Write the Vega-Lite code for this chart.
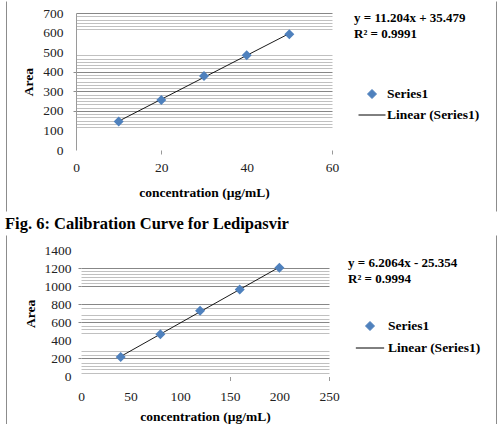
{
  "$schema": "https://vega.github.io/schema/vega-lite/v6.json",
  "background": "white",
  "padding": {"left": 4, "top": 0, "right": 0, "bottom": 0},
  "spacing": 3,
  "resolve": {
    "scale": {"color": "independent", "x": "independent", "y": "independent"},
    "legend": {"color": "independent"}
  },
  "datasets": {
    "ledipasvir_low": [
      {"conc": 10, "area": 146},
      {"conc": 20, "area": 256},
      {"conc": 30, "area": 378},
      {"conc": 40, "area": 484},
      {"conc": 50, "area": 592}
    ],
    "ledipasvir_high": [
      {"conc": 40, "area": 216},
      {"conc": 80, "area": 470},
      {"conc": 120, "area": 730},
      {"conc": 160, "area": 966},
      {"conc": 200, "area": 1207}
    ]
  },
  "config": {
    "font": "Liberation Serif",
    "axis": {
      "labelFont": "Liberation Serif",
      "labelFontSize": 13.5,
      "labelColor": "#222222",
      "titleFont": "Liberation Serif",
      "titleFontSize": 13.5,
      "titleFontWeight": "bold",
      "titleColor": "#000000",
      "labelOverlap": false,
      "labelFlush": false,
      "tickCount": 200,
      "format": "d"
    },
    "legend": {
      "padding": 0,
      "titleFont": "Liberation Serif",
      "titleFontSize": 13,
      "titleFontWeight": "bold",
      "titleColor": "#000000",
      "titleLineHeight": 16,
      "titleAnchor": "start",
      "titleLimit": 300,
      "labelFont": "Liberation Serif",
      "labelFontSize": 13.5,
      "labelFontWeight": "bold",
      "labelColor": "#000000",
      "symbolSize": 576
    }
  },
  "vconcat": [
    {
      "width": 490,
      "height": 210,
      "view": {"stroke": "#8c8c8c", "strokeDash": [0, 490, 210, 490, 210]},
      "data": {"name": "ledipasvir_low"},
      "layer": [
        {
          "transform": [{"regression": "area", "on": "conc"}],
          "mark": {"type": "line", "strokeWidth": 0.9},
          "encoding": {
            "x": {
              "field": "conc",
              "type": "quantitative",
              "scale": {"domain": [0, 60], "range": [70, 326], "nice": false},
              "axis": {
                "title": "concentration (µg/mL)",
                "values": [0, 20, 40, 60],
                "offset": -61,
                "domain": false,
                "grid": false,
                "tickSize": 4,
                "tickColor": "#999999",
                "tickOpacity": {"condition": {"test": "datum.value === 20 || datum.value === 60", "value": 1}, "value": 0},
                "labelPadding": 6.5,
                "titlePadding": 11.5
              }
            },
            "y": {
              "field": "area",
              "type": "quantitative",
              "scale": {"domain": [0, 700], "range": [149, 12], "nice": false},
              "axis": {
                "title": "Area",
                "values": [0, 100, 116.7, 133.3, 150, 166.7, 183.3, 200, 216.7, 233.3, 250, 266.7, 283.3, 300, 316.7, 333.3, 350, 366.7, 383.3, 400, 416.7, 433.3, 450, 466.7, 483.3, 500, 600, 616.7, 633.3, 650, 666.7, 683.3, 700],
                "offset": -70,
                "labelExpr": "datum.value % 100 === 0 ? datum.label : ''",
                "grid": true,
                "gridColor": {"condition": {"test": "datum.value % 100 === 0", "value": "#878787"}, "value": "#c0c0c0"},
                "gridOpacity": {"condition": {"test": "datum.value === 0 || datum.value === 100 || datum.value === 500 || datum.value === 600", "value": 0}, "value": 1},
                "tickSize": 3,
                "tickColor": "#8c8c8c",
                "tickOpacity": {"condition": {"test": "datum.value === 200 || datum.value === 300 || datum.value === 400", "value": 1}, "value": 0},
                "domain": true,
                "domainColor": "#9a9a9a",
                "labelPadding": 10,
                "titlePadding": 7
              }
            },
            "color": {
              "datum": "Linear (Series1)",
              "scale": {"domain": ["Series1", "Linear (Series1)"], "range": ["#4F81BD", "#000000"]},
              "legend": {
                "orient": "none",
                "legendX": 348,
                "legendY": 11,
                "title": "y = 11.204x + 35.479",
                "titlePadding": 39,
                "rowPadding": 0,
                "symbolOffset": 4,
                "labelOffset": 1,
                "encode": {
                  "title": {
                    "update": {
                      "text": {"value": ["y = 11.204x + 35.479", "R² = 0.9991"]}
                    }
                  },
                  "symbols": {
                    "update": {
                      "shape": {"signal": "datum.value === 'Series1' ? 'diamond' : 'stroke'"},
                      "size": {"signal": "datum.value === 'Series1' ? 81 : 729"},
                      "fill": {"signal": "datum.value === 'Series1' ? '#4F81BD' : 'transparent'"},
                      "stroke": {"signal": "datum.value === 'Series1' ? 'transparent' : '#000000'"},
                      "strokeWidth": {"value": 1},
                      "opacity": {"value": 1}
                    }
                  }
                }
              }
            }
          }
        },
        {
          "mark": {"type": "point", "shape": "diamond", "filled": true, "size": 100, "opacity": 1},
          "encoding": {
            "x": {"field": "conc", "type": "quantitative"},
            "y": {"field": "area", "type": "quantitative"},
            "color": {"datum": "Series1"}
          }
        }
      ]
    },
    {
      "width": 490,
      "height": 196,
      "view": {"stroke": "#8c8c8c", "strokeDash": [0, 490, 196, 490, 196]},
      "title": {
        "text": "Fig. 6: Calibration Curve for Ledipasvir",
        "anchor": "start",
        "frame": "group",
        "font": "Liberation Serif",
        "fontSize": 16.5,
        "fontWeight": "bold",
        "color": "#000000",
        "offset": 3,
        "dx": -1
      },
      "data": {"name": "ledipasvir_high"},
      "layer": [
        {
          "transform": [{"regression": "area", "on": "conc"}],
          "mark": {"type": "line", "strokeWidth": 0.9},
          "encoding": {
            "x": {
              "field": "conc",
              "type": "quantitative",
              "scale": {"domain": [0, 250], "range": [75, 323], "nice": false},
              "axis": {
                "title": "concentration (µg/mL)",
                "values": [0, 50, 100, 150, 200, 250],
                "offset": -54.5,
                "domain": false,
                "grid": false,
                "tickSize": 4,
                "tickColor": "#999999",
                "tickOpacity": {"condition": {"test": "datum.value === 150 || datum.value === 250", "value": 1}, "value": 0},
                "labelPadding": 8.5,
                "titlePadding": 7
              }
            },
            "y": {
              "field": "area",
              "type": "quantitative",
              "scale": {"domain": [0, 1400], "range": [141.5, 15.3], "nice": false},
              "axis": {
                "title": "Area",
                "values": [0, 40, 80, 115, 150, 200, 240, 280, 400, 485, 525, 565, 600, 640, 680, 760, 800, 1000, 1035, 1070, 1100, 1135, 1165, 1200, 1400],
                "offset": -75,
                "labelExpr": "datum.value % 200 === 0 ? datum.label : ''",
                "grid": true,
                "gridColor": {"condition": {"test": "datum.value % 200 === 0", "value": "#878787"}, "value": "#c0c0c0"},
                "gridOpacity": {"condition": {"test": "datum.value === 0 || datum.value === 400 || datum.value === 1400", "value": 0}, "value": 1},
                "tickSize": 3,
                "tickColor": "#8c8c8c",
                "tickOpacity": {"condition": {"test": "datum.value === 200 || datum.value === 600 || datum.value === 800 || datum.value === 1000 || datum.value === 1200", "value": 1}, "value": 0},
                "domain": false,
                "labelPadding": 7,
                "titlePadding": 7
              }
            },
            "color": {
              "datum": "Linear (Series1)",
              "scale": {"domain": ["Series1", "Linear (Series1)"], "range": ["#4F81BD", "#000000"]},
              "legend": {
                "orient": "none",
                "legendX": 342,
                "legendY": 22,
                "title": "y = 6.2064x - 25.354",
                "titlePadding": 25,
                "rowPadding": -1,
                "symbolOffset": 7,
                "labelOffset": 3,
                "encode": {
                  "title": {
                    "update": {
                      "text": {"value": ["y = 6.2064x - 25.354", "R² = 0.9994"]}
                    }
                  },
                  "symbols": {
                    "update": {
                      "shape": {"signal": "datum.value === 'Series1' ? 'diamond' : 'stroke'"},
                      "size": {"signal": "datum.value === 'Series1' ? 81 : 800"},
                      "fill": {"signal": "datum.value === 'Series1' ? '#4F81BD' : 'transparent'"},
                      "stroke": {"signal": "datum.value === 'Series1' ? 'transparent' : '#000000'"},
                      "strokeWidth": {"value": 1},
                      "opacity": {"value": 1}
                    }
                  }
                }
              }
            }
          }
        },
        {
          "mark": {"type": "point", "shape": "diamond", "filled": true, "size": 100, "opacity": 1},
          "encoding": {
            "x": {"field": "conc", "type": "quantitative"},
            "y": {"field": "area", "type": "quantitative"},
            "color": {"datum": "Series1"}
          }
        }
      ]
    }
  ]
}
